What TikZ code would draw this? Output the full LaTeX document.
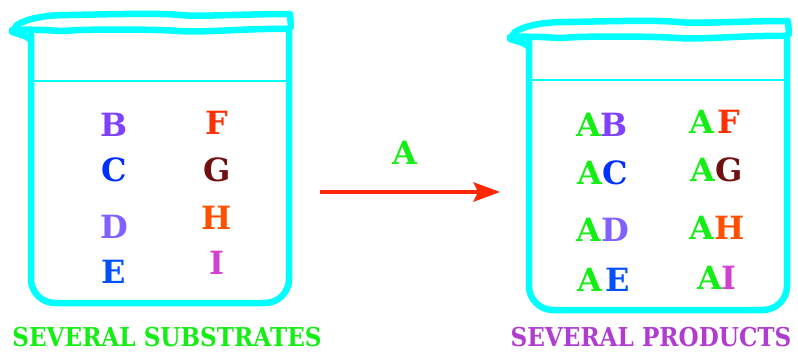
\documentclass[tikz,border=0pt]{standalone}
\usepackage{fontspec}
\setmainfont{DejaVu Serif}
\usetikzlibrary{calc}
\begin{document}
\definecolor{glass}{RGB}{0,255,255}
\definecolor{agreen}{RGB}{20,238,20}
\definecolor{bpurple}{RGB}{128,64,255}
\definecolor{cblue}{RGB}{0,48,255}
\definecolor{dpurple}{RGB}{128,96,255}
\definecolor{eblue}{RGB}{0,80,255}
\definecolor{fred}{RGB}{255,48,0}
\definecolor{gbrown}{RGB}{112,16,16}
\definecolor{horange}{RGB}{255,80,0}
\definecolor{imagenta}{RGB}{210,64,210}
\definecolor{arrowred}{RGB}{255,40,0}
\definecolor{prodpurple}{RGB}{176,60,208}
\newcommand\narrow[1]{\scalebox{0.89}[1]{#1}}
\begin{tikzpicture}[x=1bp,y=-1bp,
  glassline/.style={draw=glass,line width=6.5bp,line cap=round,line join=round},
  waterline/.style={draw=glass,line width=1.6bp},
  chem/.style={inner sep=0pt,font=\bfseries\fontsize{32bp}{40bp}\selectfont},
  caption/.style={inner sep=0pt,font=\bfseries\fontsize{26bp}{30bp}\selectfont},
  beaker/.pic={
    % wavy double rim
    \draw[glassline] (17,25) .. controls (30,17) and (50,15) .. (70,15)
      .. controls (120,14) and (160,13) .. (180,15)
      .. controls (200,17) and (240,14) .. (290,14) -- (291,27);
    \draw[glassline] (12,30) .. controls (40,29) and (55,31) .. (65,31)
      .. controls (80,29) and (150,29) .. (180,31)
      .. controls (200,33) and (250,28) .. (289,29);
    \draw[glassline] (17,25) -- (12,32) -- (25,36) -- (31,40);
    % walls and rounded bottom
    \draw[glassline,rounded corners=24bp] (31,34) -- (31,303) -- (289,303) -- (289,28);
  }]
\useasboundingbox (0,0) rectangle (798,352);

% the two beakers
\pic at (0,0) {beaker};
\pic at (498,7) {beaker};
\draw[waterline] (33,81) -- (287,81);
\draw[waterline] (532,80) -- (784,80);

% substrates
\node[chem,text=bpurple]  (b) at (114,125) {B};
\node[chem,text=cblue]    (c) at (114,170) {C};
\node[chem,text=dpurple]  (d) at (114,227) {D};
\node[chem,text=eblue]    (e) at (114,272) {E};
\node[chem,text=fred]     (f) at (217,123) {F};
\node[chem,text=gbrown]   (g) at (217,170) {G};
\node[chem,text=horange]  (h) at (217,218) {H};
\node[chem,text=imagenta] (i) at (217,263) {I};

% products
\node[chem] (ab) at (602,125) {\textcolor{agreen}{A}\textcolor{bpurple}{B}};
\node[chem] (ac) at (603,173) {\textcolor{agreen}{A}\textcolor{cblue}{C}};
\node[chem] (ad) at (603,230) {\textcolor{agreen}{A}\textcolor{dpurple}{D}};
\node[chem] (ae) at (604,280) {\textcolor{agreen}{A}\kern3bp\textcolor{eblue}{E}};
\node[chem] (af) at (715,122) {\textcolor{agreen}{A}\kern3bp\textcolor{fred}{F}};
\node[chem] (ag) at (717,170) {\textcolor{agreen}{A}\textcolor{gbrown}{G}};
\node[chem] (ah) at (717,228) {\textcolor{agreen}{A}\textcolor{horange}{H}};
\node[chem] (ai) at (717,278) {\textcolor{agreen}{A}\textcolor{imagenta}{I}};

% reagent and reaction arrow
\node[chem,text=agreen] (reagent) at (405,153) {A};
\coordinate (start) at (320,192);
\coordinate (finish) at (500,192);
\fill[arrowred] (finish) -- ++(-27,-10) -- ++(5,10) -- ++(-5,10) -- cycle;
\draw[arrowred,line width=4bp] (start) -- ($(finish)+(-20,0)$);

% captions
\node[caption,text=agreen] (subs) at (167,337.5) {\narrow{SEVERAL SUBSTRATES}};
\node[caption,text=prodpurple] (prods) at (651,337.5) {\narrow{SEVERAL PRODUCTS}};
\end{tikzpicture}
\end{document}
